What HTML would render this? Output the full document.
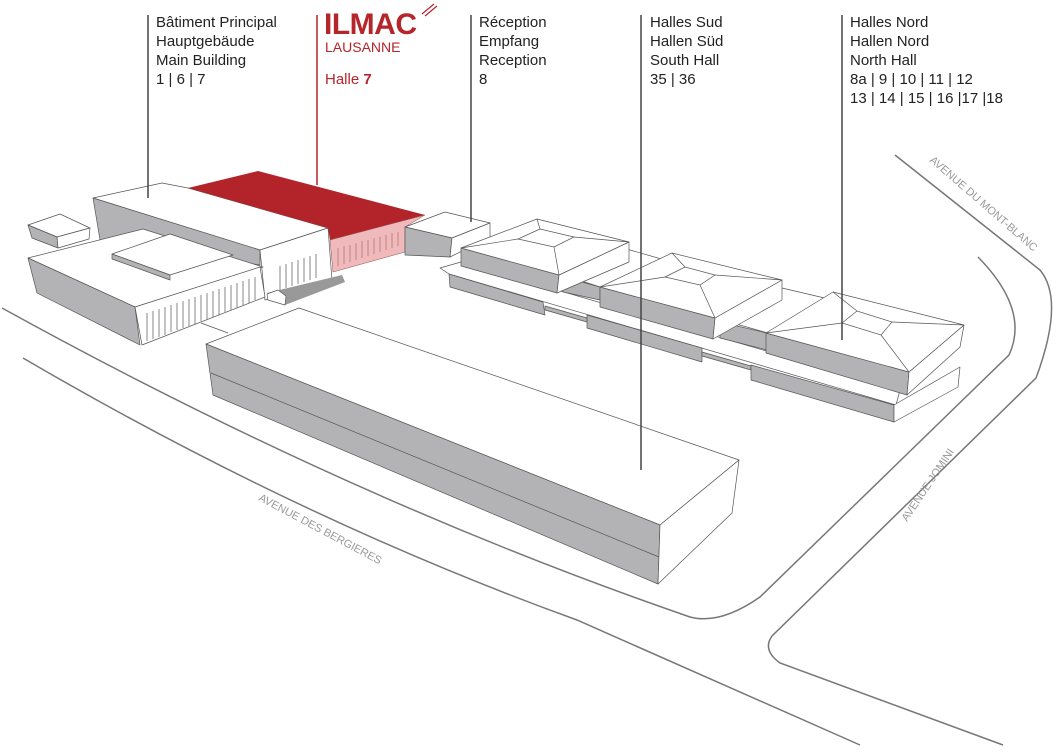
<!DOCTYPE html>
<html><head><meta charset="utf-8"><style>
html,body{margin:0;padding:0;background:#fff;width:1063px;height:753px;overflow:hidden}
svg{display:block}
.t{font-family:"Liberation Sans",sans-serif;font-size:15px;fill:#222}
.r{font-family:"Liberation Sans",sans-serif;fill:#b5252a}
.av{font-family:"Liberation Sans",sans-serif;font-size:11px;fill:#999}
.g{fill:#b3b3b5;stroke:#555;stroke-width:.7;stroke-linejoin:round}
.w{fill:#fff;stroke:#555;stroke-width:.7;stroke-linejoin:round}
.l{fill:none;stroke:#555;stroke-width:.7}
.rd{fill:none;stroke:#777;stroke-width:1.5}
.cl{stroke:#444;stroke-width:1.5}
</style></head><body>
<svg width="1063" height="753" viewBox="0 0 1063 753">
<!-- roads -->
<path class="rd" d="M2,308 Q350,500 690,617 Q720,625 760,597 L1009,355 Q1030,310 978,257"/>
<path class="rd" d="M23,358 Q300,520 577,620 L860,745"/>
<path class="rd" d="M895,155 L1040,270 Q1065,300 1036,378 L772,636 Q762,650 780,663 L1003,745"/>
<text class="av" transform="translate(258,500) rotate(28)">AVENUE DES BERGIERES</text>
<text class="av" transform="translate(929,161) rotate(41)">AVENUE DU MONT-BLANC</text>
<text class="av" transform="translate(907,522) rotate(-56)">AVENUE JOMINI</text>

<!-- small box -->
<polygon class="w" points="28,225 60,214 90,228 57,237"/>
<polygon class="g" points="28,225 57,237 58,248 32,238"/>
<polygon class="w" points="57,237 90,228 89,239 58,248"/>

<!-- main building long block -->
<polygon class="w" points="93,198 162,183 188,188 328,228 260,250"/>
<polygon class="g" points="93,198 260,250 260,265 100,240"/>
<!-- red roof -->
<polygon fill="#b3242a" points="188,188 258,171 425,215 330,240 328,228"/>
<polygon fill="#f0b9bb" stroke="#8a5050" stroke-width=".5" points="330,240 425,215 405,227 405,252 333,272"/>
<g stroke="#8a5050" stroke-width=".5" fill="none">
<path d="M338,248v18M344,246v18M350,245v17M356,243v17M362,241v17M368,240v16M374,238v16M380,237v15M386,235v15M392,233v15M398,232v14"/>
</g>
<!-- tower white -->
<polygon class="w" points="260,250 328,228 332,280 265,300"/>
<g class="l"><path d="M280,266v24M286,264v24M292,262v24M298,260v24M304,258v24M310,256v24M316,254v24"/></g>
<!-- lower-left building -->
<polygon class="w" points="28,258 143,229 263,267 135,307"/>
<polygon class="g" points="28,258 135,307 140,345 37,293"/>
<polygon class="w" points="135,307 260,267 265,297 142,345"/>
<g class="l"><path d="M147,313v28M153,311v28M159,309v28M165,307v28M171,305v27M177,303v27M183,301v27M189,299v27M195,297v27M201,295v26M207,293v26M213,291v26M219,289v26M225,287v25M231,285v25M237,283v25M243,281v24M249,279v24M255,277v23"/></g>
<polygon class="w" points="112,254 170,234 233,255 170,275"/>
<polygon class="g" points="112,254 170,275 170,280 112,259"/>
<!-- ramp -->
<polygon fill="#999" points="267,293 342,275 345,282 285,305"/>
<polygon class="w" points="267,294 278,290 286,296 285,305 268,300"/>

<!-- reception box -->
<polygon class="w" points="405,227 445,212 490,223 452,238"/>
<polygon class="g" points="405,227 452,238 450,257 405,255"/>
<polygon class="w" points="452,238 490,223 490,237 450,257"/>

<!-- plinth -->
<polygon class="w" points="440,268 461,262 900,390 896,405 449,274"/>
<polygon class="g" points="449,274 543,302 545,315 450,287"/>
<polygon class="g" points="587,315 702,348 702,362 587,328"/>
<polygon class="g" points="545,306 587,318 587,322 545,310"/>
<polygon class="g" points="702,352 751,366 751,370 702,356"/>

<!-- connector 1 -->
<polygon class="w" points="557,273 623,248 672,262 600,287"/>
<polygon class="g" points="557,275 600,287 600,300 563,292"/>
<!-- connector 2 -->
<polygon class="w" points="715,318 782,288 833,300 768,333"/>
<polygon class="g" points="720,322 767,333 767,350 720,338"/>

<!-- pavilion 1 -->
<polygon class="g" points="461,248 559,275 557,293 461,266"/>
<polygon class="w" points="559,275 629,242 629,262 557,293"/>
<polygon class="w" points="461,248 537,219 629,242 559,275"/>
<polygon class="l" points="518,239 540,229 574,237 554,247"/>
<path class="l" d="M461,248L518,239M537,219L540,229M629,242L574,237M559,275L554,247"/>
<!-- pavilion 2 -->
<polygon class="g" points="600,287 715,318 713,339 600,307"/>
<polygon class="w" points="715,318 782,280 782,300 713,339"/>
<polygon class="w" points="600,287 672,253 782,280 715,318"/>
<polygon class="l" points="665,277 685,267 715,275 700,285"/>
<path class="l" d="M600,287L665,277M672,253L685,267M782,280L715,275M715,318L700,285"/>
<!-- pavilion 3 lower tier -->
<polygon class="g" points="751,365 894,405 894,422 751,380"/>
<polygon class="w" points="894,405 960,367 958,387 894,422"/>
<!-- pavilion 3 -->
<polygon class="g" points="766,333 909,372 907,395 766,353"/>
<polygon class="w" points="909,372 964,325 960,347 907,395"/>
<polygon class="w" points="766,333 833,292 964,325 909,372"/>
<polygon class="l" points="842,323 857,311 892,322 881,335"/>
<path class="l" d="M766,333L842,323M833,292L857,311M964,325L892,322M909,372L881,335"/>

<!-- big south building -->
<polygon class="w" points="206,344 299,308 739,460 660,525"/>
<polygon class="g" points="206,344 660,525 658,584 213,395"/>
<path class="l" d="M211,373L659,557M734,493L659,557"/>
<polygon class="w" points="660,525 739,460 732,513 658,584"/>
<path class="l" d="M201,323L228,333"/>

<!-- callout lines -->
<line class="cl" x1="148" y1="15" x2="148" y2="198"/>
<line x1="317" y1="15" x2="317" y2="185" stroke="#b5252a" stroke-width="1.5"/>
<line class="cl" x1="471" y1="15" x2="471" y2="222"/>
<line class="cl" x1="641" y1="15" x2="641" y2="470"/>
<line class="cl" x1="842" y1="15" x2="842" y2="340"/>

<!-- texts -->
<text class="t" x="156" y="27">Bâtiment Principal</text>
<text class="t" x="156" y="46">Hauptgebäude</text>
<text class="t" x="156" y="65">Main Building</text>
<text class="t" x="156" y="84">1 | 6 | 7</text>

<text class="r" x="324" y="34" font-size="30" font-weight="bold" letter-spacing="-0.5">ILMAC</text>
<path d="M422,14L434,4M425,16L437,6" stroke="#b5252a" stroke-width="1.2"/>
<text class="r" x="325" y="52" font-size="14">LAUSANNE</text>
<text class="r" x="325" y="84" font-size="15">Halle <tspan font-weight="bold">7</tspan></text>

<text class="t" x="479" y="27">Réception</text>
<text class="t" x="479" y="46">Empfang</text>
<text class="t" x="479" y="65">Reception</text>
<text class="t" x="479" y="84">8</text>

<text class="t" x="650" y="27">Halles Sud</text>
<text class="t" x="650" y="46">Hallen Süd</text>
<text class="t" x="650" y="65">South Hall</text>
<text class="t" x="650" y="84">35 | 36</text>

<text class="t" x="850" y="27">Halles Nord</text>
<text class="t" x="850" y="46">Hallen Nord</text>
<text class="t" x="850" y="65">North Hall</text>
<text class="t" x="850" y="84">8a | 9 | 10 | 11 | 12</text>
<text class="t" x="850" y="103">13 | 14 | 15 | 16 |17 |18</text>
</svg>
</body></html>
